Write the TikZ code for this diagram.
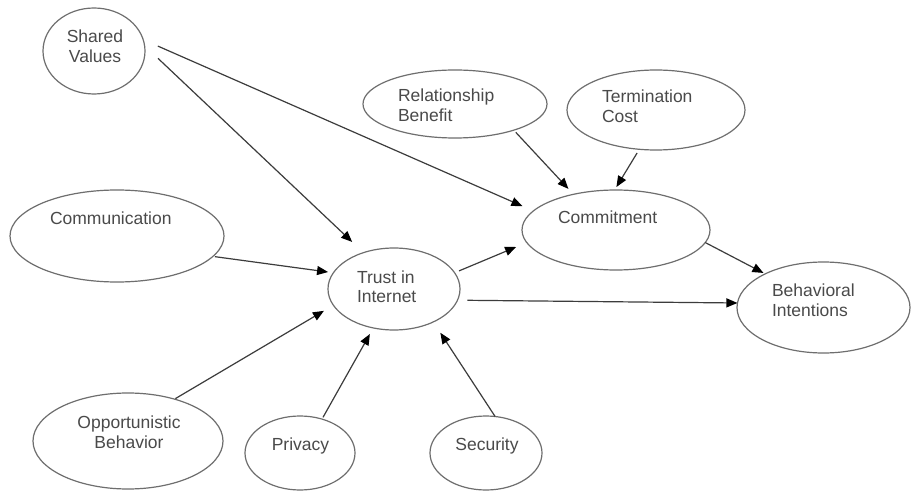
\documentclass[tikz,border=0pt]{standalone}
\usepackage{fontspec}
\setmainfont{Liberation Sans}
\usetikzlibrary{shapes.geometric,arrows.meta}
\definecolor{edgegray}{HTML}{6E6E6E}
\definecolor{txtgray}{HTML}{4A4A4A}
\definecolor{arrgray}{HTML}{3C3C3C}
\tikzset{
  ell/.style={ellipse, draw=edgegray, line width=1.2pt, inner sep=0pt, outer sep=0pt},
  lbl/.style={inner sep=0pt, outer sep=0pt, text=txtgray, font=\fontsize{17.5}{20}\selectfont},
  arr/.style={draw=arrgray, line width=1.2pt, -{Triangle[length=11pt,width=9pt,color=black]}}
}
\begin{document}
\begin{tikzpicture}[x=1pt,y=-1pt]
\fill[white] (0,0) rectangle (911,492);
\useasboundingbox (0,0) rectangle (911,492);

% ellipses
\node[ell, minimum width=102pt, minimum height=86pt] (sv) at (94,51) {};
\node[ell, minimum width=214pt, minimum height=92pt] (comm) at (117,236) {};
\node[ell, minimum width=190pt, minimum height=96pt] (opp) at (128,441) {};
\node[ell, minimum width=110pt, minimum height=74pt] (priv) at (300,453) {};
\node[ell, minimum width=112pt, minimum height=74pt] (sec) at (486,453) {};
\node[ell, minimum width=184pt, minimum height=68pt] (rb) at (455,104) {};
\node[ell, minimum width=178pt, minimum height=80pt] (tc) at (656,110) {};
\node[ell, minimum width=132pt, minimum height=82pt] (trust) at (394,289) {};
\node[ell, minimum width=188pt, minimum height=80pt] (commit) at (616,230) {};
\node[ell, minimum width=173pt, minimum height=91pt] (beh) at (823.5,307.5) {};

% labels
\node[lbl, anchor=base] (svt) at (95,43) {\begin{tabular}[t]{@{}c@{}}Shared\\Values\end{tabular}};
\node[lbl, anchor=base west] (commt) at (50,224) {Communication};
\node[lbl, anchor=base west] (trustt) at (357,283) {\begin{tabular}[t]{@{}l@{}}Trust in\\Internet\end{tabular}};
\node[lbl, anchor=base west] (committ) at (558,223) {Commitment};
\node[lbl, anchor=base west] (rbt) at (398,102) {\begin{tabular}[t]{@{}l@{}}Relationship\\Benefit\end{tabular}};
\node[lbl, anchor=base west] (tct) at (602,103) {\begin{tabular}[t]{@{}l@{}}Termination\\Cost\end{tabular}};
\node[lbl, anchor=base west] (beht) at (772,296) {\begin{tabular}[t]{@{}l@{}}Behavioral\\Intentions\end{tabular}};
\node[lbl, anchor=base] (oppt) at (129,428) {\begin{tabular}[t]{@{}c@{}}Opportunistic\\Behavior\end{tabular}};
\node[lbl, anchor=base] (privt) at (300.5,450) {Privacy};
\node[lbl, anchor=base] (sect) at (487,450) {Security};

% connectors
\draw[arr, shorten <=16pt, shorten >=12pt] (sv.13.3) -- (commit.167.4);
\draw[arr, shorten <=18.5pt, shorten >=15.6pt] (sv.6.4) -- (trust.130.2);
\draw[arr, shorten <=2pt, shorten >=5.4pt] (comm.-12.2) -- (trust.165);
\draw[arr, shorten <=1pt, shorten >=11pt] (opp.42.6) -- (trust.195.2);
\draw[arr, shorten <=2pt, shorten >=7pt] (priv.57.3) -- (trust.242.2);
\draw[arr, shorten >=12.9pt] (sec.76.6) -- (trust.-40.5);
\draw[arr, shorten <=4.8pt, shorten >=11.5pt] (trust.15) -- (commit.188.7);
\draw[arr, shorten <=9.9pt] (trust.-10.7) -- (beh.177.7);
\draw[arr, shorten <=3pt, shorten >=7.4pt] (rb.-24.7) -- (commit.140.4);
\draw[arr, shorten <=4.3pt, shorten >=3.5pt] (tc.-113) -- (commit.92.7);
\draw[arr, shorten >=2pt] (commit.-8.3) -- (beh.150.2);
\end{tikzpicture}
\end{document}
